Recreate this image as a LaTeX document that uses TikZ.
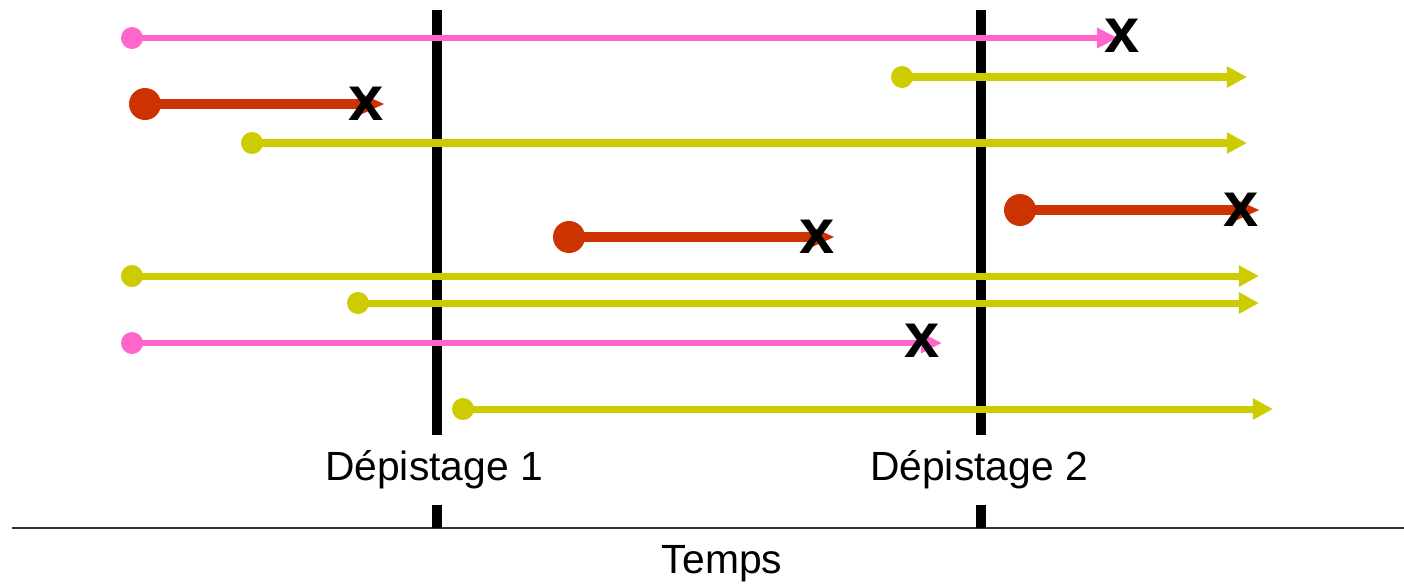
\documentclass[tikz,border=0pt]{standalone}
\usepackage{fontspec}
\setmainfont{Liberation Sans}
\usetikzlibrary{arrows.meta, positioning}
\definecolor{suivirose}{HTML}{FF66CC}
\definecolor{suivijaune}{HTML}{CCCC00}
\definecolor{suivirouge}{HTML}{CC3300}

\begin{document}
\begin{tikzpicture}[
    x=0.01cm, y=-0.01cm,
    label/.style={font=\fontsize{11.6}{14}\selectfont, inner sep=0pt},
    screen/.style={line width=3.1pt, black},
    axis/.style={line width=0.6pt, black!80},
    rosedot/.style={circle, fill=suivirose, inner sep=0pt, minimum size=0.22cm},
    jaunedot/.style={circle, fill=suivijaune, inner sep=0pt, minimum size=0.22cm},
    rougedot/.style={circle, fill=suivirouge, inner sep=0pt, minimum size=0.32cm},
    roseline/.style={line width=1.9pt, suivirose, -{Triangle[length=6pt, width=5.5pt]}},
    jauneline/.style={line width=2pt, suivijaune, -{Triangle[length=5.7pt, width=5.7pt]}},
    rougeline/.style={line width=3pt, suivirouge, -{Triangle[length=7pt, width=5.5pt]}},
    deces/.style={font=\fontsize{18}{18}\selectfont\bfseries, inner sep=0pt}
]
\useasboundingbox (0,0) rectangle (1404,587);

% time axis
\coordinate (t0) at (12,528);
\coordinate (t1) at (1404,528);
\draw[axis] (t0) -- (t1);
\node[label] (temps) at (722,564) {Temps};

% the two screening rounds
\coordinate (d1top) at (437,10);
\coordinate (d2top) at (981,10);
\node[label, minimum height=0.68cm] (d1) at (434,470) {Dépistage 1};
\node[label, minimum height=0.68cm] (d2) at (979,470) {Dépistage 2};
\draw[screen] (d1top) -- (d1top |- d1.north);
\draw[screen] (d1top |- d1.south) -- (d1top |- t0);
\draw[screen] (d2top) -- (d2top |- d2.north);
\draw[screen] (d2top |- d2.south) -- (d2top |- t0);

% slow cases, still running at the end
\foreach \n/\xa/\xb/\y in {1/902/1247/77, 2/252/1247/143, 3/132/1259/276, 4/358/1259/303, 5/463/1273/409} {
  \node[jaunedot] (j\n) at (\xa,\y) {};
  \coordinate (j\n e) at (\xb,\y);
  \draw[jauneline] (j\n.center) -- (j\n e);
}

% intermediate cases
\node[rosedot] (r1) at (132,38) {};
\coordinate (r1e) at (1118,38);
\draw[roseline] (r1.center) -- (r1e);
\node[deces] (r1x) at (1122,36) {x};

\node[rosedot] (r2) at (132,343) {};
\coordinate (r2e) at (942,343);
\draw[roseline] (r2.center) -- (r2e);
\node[deces] (r2x) at (922,341) {x};

% fast cases
\foreach \n/\xa/\xb/\xx/\y in {1/145/385/366/104, 2/1020/1260/1241/210, 3/569/835/817/237} {
  \node[rougedot] (o\n) at (\xa,\y) {};
  \coordinate (o\n e) at (\xb,\y);
  \draw[rougeline] (o\n.center) -- (o\n e);
  \node[deces] (o\n x) at (\xx,\y) {x};
}

\end{tikzpicture}
\end{document}
